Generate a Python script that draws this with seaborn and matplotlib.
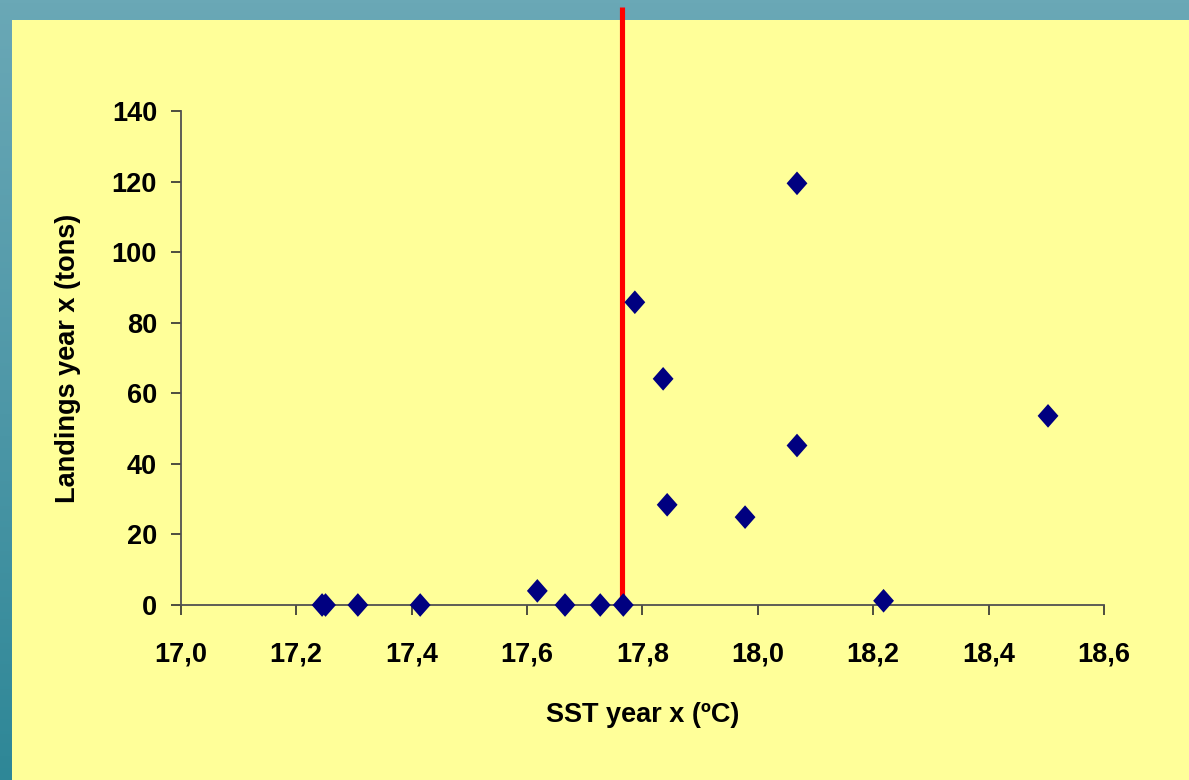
import numpy as np
import pandas as pd
import matplotlib
matplotlib.use("Agg")
import matplotlib.pyplot as plt
from matplotlib.path import Path
from matplotlib.patches import Rectangle
import seaborn as sns

# ---- data ----
sst = [17.245, 17.251, 17.307, 17.415, 17.618, 17.666, 17.727, 17.767,
       17.787, 17.836, 17.843, 17.978, 18.068, 18.068, 18.218, 18.503]
landings = [0, 0, 0, 0, 4, 0, 0, 0,
            85.8, 64.1, 28.4, 24.9, 119.5, 45.2, 1.2, 53.6]
threshold_sst = 17.764
x_ticks = [17.0, 17.2, 17.4, 17.6, 17.8, 18.0, 18.2, 18.4, 18.6]
x_tick_labels = ["17,0", "17,2", "17,4", "17,6", "17,8", "18,0", "18,2", "18,4", "18,6"]
y_ticks = [0, 20, 40, 60, 80, 100, 120, 140]
x_label = "SST year x (ºC)"
y_label = "Landings year x (tons)"

df = pd.DataFrame({"sst": sst, "landings": landings})

sns.set_theme(style="ticks")
plt.rcParams["font.family"] = ["Liberation Sans", "DejaVu Sans"]
plt.rcParams["font.weight"] = "bold"

W, H = 1189, 780
fig = plt.figure(figsize=(W / 100, H / 100), dpi=100)

# background: teal gradient + yellow panel
bg = fig.add_axes([0, 0, 1, 1], zorder=-10)
grad = np.linspace(0, 1, 256).reshape(-1, 1)
teal = matplotlib.colors.LinearSegmentedColormap.from_list(
    "teal", ["#6aa8b6", "#4f98a8", "#2e8797"])
bg.imshow(grad, aspect="auto", cmap=teal, extent=[0, 1, 0, 1], origin="upper")
bg.add_patch(Rectangle((12 / W, 0), 1 - 12 / W, 1 - 20 / H,
                       transform=bg.transAxes, facecolor="#ffff99",
                       edgecolor="none"))
bg.set_xlim(0, 1); bg.set_ylim(0, 1)
bg.axis("off")

left, right = 180.7 / W, 1104 / W
bottom, top = (H - 605) / H, (H - 111) / H
ax = fig.add_axes([left, bottom, right - left, top - bottom])
ax.set_facecolor("none")

ax.set_xlim(17.0, 18.6)
ax.set_ylim(0, 140)

# red threshold line reaching above the plot
ymax_frac = (605 - 7) / (605 - 111)
ax.axvline(threshold_sst, ymin=0, ymax=ymax_frac, color="#ff0000",
           lw=3.7, clip_on=False, zorder=2, solid_capstyle="butt")

diamond = Path([(0, 1), (0.88, 0), (0, -1), (-0.88, 0), (0, 1)],
               [Path.MOVETO, Path.LINETO, Path.LINETO, Path.LINETO, Path.CLOSEPOLY])
sns.scatterplot(data=df, x="sst", y="landings", ax=ax, marker=diamond,
                s=290, color="#000080", edgecolor="none", linewidth=0,
                clip_on=False, zorder=3)

ax.set_xticks(x_ticks)
ax.set_xticklabels(x_tick_labels)
ax.set_yticks(y_ticks)

for side in ["top", "right"]:
    ax.spines[side].set_visible(False)
for side in ["left", "bottom"]:
    ax.spines[side].set_color("#505050")
    ax.spines[side].set_linewidth(1.3)

ax.tick_params(axis="both", which="major", direction="out", length=7,
               width=1.2, color="#303030", labelsize=19.5, labelcolor="black",
               bottom=True, left=True, top=False, right=False)
ax.tick_params(axis="x", pad=19)
ax.tick_params(axis="y", pad=10)
for lab in ax.get_xticklabels() + ax.get_yticklabels():
    lab.set_fontweight("bold")

ax.set_xlabel(x_label, fontsize=19.5, fontweight="bold", labelpad=25, color="black")
ax.set_ylabel(y_label, fontsize=19.5, fontweight="bold", labelpad=22, color="black")
ax.grid(False)

fig.savefig("out.png", dpi=100)
